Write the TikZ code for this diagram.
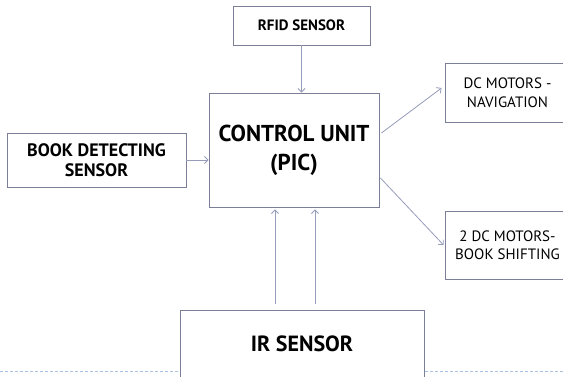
\documentclass[tikz,border=0pt]{standalone}
\usepackage{fontspec}
\setmainfont{PT Sans}
\usetikzlibrary{arrows.meta}

\definecolor{boxline}{RGB}{122,126,150}
\definecolor{arrowline}{RGB}{150,156,186}
\definecolor{ruleblue}{RGB}{170,194,226}

\tikzset{
  block/.style={draw=boxline, line width=0.9pt, fill=white, align=center, inner sep=0pt},
  link/.style={draw=arrowline, line width=0.8pt, -{Straight Barb[length=3.5pt,width=7pt]}},
}

\begin{document}
\begin{tikzpicture}[x=1pt, y=-1pt]
  \useasboundingbox (0,0) rectangle (563,377);
  \clip (0,0) rectangle (563,377);
  % dashed footer rule behind the IR block
  \draw[ruleblue, dashed, dash pattern=on 3pt off 2pt, line width=0.6pt] (0,371) -- (563,371);
  \node[block, minimum width=137pt, minimum height=39pt, font=\bfseries\fontsize{15}{18}\selectfont]
    (rfid) at (301.5,25.5) {RFID SENSOR};
  \node[block, minimum width=170pt, minimum height=114pt, font=\bfseries\fontsize{23}{29}\selectfont]
    (cu) at (294,150) {CONTROL UNIT\\(PIC)};
  \node[block, minimum width=179pt, minimum height=54pt, font=\bfseries\fontsize{18}{20}\selectfont]
    (book) at (96.5,160) {BOOK DETECTING\\SENSOR};
  \node[block, minimum width=125pt, minimum height=59pt, font=\fontsize{15}{19}\selectfont]
    (nav) at (507.5,92.5) {DC MOTORS -\\NAVIGATION};
  \node[block, minimum width=125pt, minimum height=68pt, font=\fontsize{15}{18}\selectfont]
    (shift) at (507.5,245) {2 DC MOTORS-\\BOOK SHIFTING};
  \node[block, minimum width=244pt, minimum height=68pt, font=\bfseries\fontsize{22}{24}\selectfont]
    (ir) at (302,344) {IR SENSOR};
  % inputs
  \draw[link] (rfid.south) -- (rfid.south |- cu.north);
  \draw[link] (book.east) -- (book.east -| cu.west);
  \coordinate (irtop) at ([yshift=6pt]ir.north);
  \coordinate (irin1) at ([xshift=-19pt,yshift=-2pt]cu.south);
  \coordinate (irin2) at ([xshift=21pt,yshift=-2pt]cu.south);
  \draw[link] (irtop -| irin1) -- (irin1);
  \draw[link] (irtop -| irin2) -- (irin2);
  % outputs
  \draw[link] ([xshift=2pt,yshift=17pt]cu.east) -- ([xshift=-3pt,yshift=4.5pt]nav.west);
  \draw[link] ([xshift=1pt,yshift=-28pt]cu.east) -- ([xshift=-1pt]shift.west);
\end{tikzpicture}
\end{document}
